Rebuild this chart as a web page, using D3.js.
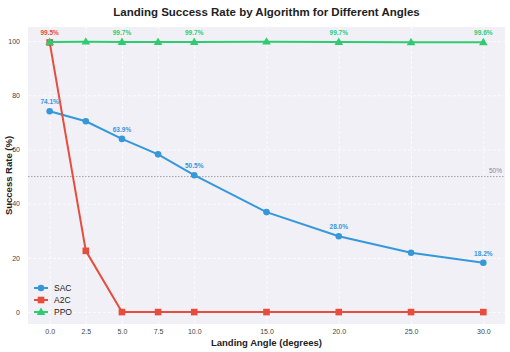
<!DOCTYPE html>
<html>
<head>
<meta charset="utf-8">
<script src="https://cdn.jsdelivr.net/npm/d3@7"></script>
<style>
body { margin: 0; background: #fff; }
text { font-family: "Liberation Sans", Arial, sans-serif; }
</style>
</head>
<body>
<div class="chart"></div>
<script>
const width = 510
const height = 352
const margin = { top: 27, right: 5, left: 28, bottom: 28 }
const innerWidth = width - margin.left - margin.right
const innerHeight = height - margin.top - margin.bottom

const angles = [0, 2.5, 5, 7.5, 10, 15, 20, 25, 30]
const sac = [74.1, 70.4, 63.9, 58.2, 50.5, 36.9, 28.0, 21.9, 18.2]
const a2c = [99.5, 22.6, 0, 0, 0, 0, 0, 0, 0]
const ppo = [99.7, 99.8, 99.7, 99.7, 99.7, 99.8, 99.7, 99.6, 99.6]
const xTicks = [0, 2.5, 5, 7.5, 10, 15, 20, 25, 30]
const yTicks = [0, 20, 40, 60, 80, 100]

const series = [
    { name: "SAC", values: sac, color: "#3498db", marker: "circle", labels: [0, 2, 4, 6, 8] },
    { name: "A2C", values: a2c, color: "#e74c3c", marker: "square", labels: [0] },
    { name: "PPO", values: ppo, color: "#2ecc71", marker: "triangle", labels: [2, 4, 6, 8] }
]

const svg = d3.select(".chart")
    .append("svg")
    .attr("width", width)
    .attr("height", height)

const g = svg.append("g")
    .attr("transform", "translate(" + margin.left + "," + margin.top + ")")

const xScale = d3.scaleLinear()
    .domain([-1.5, 31.5])
    .range([0, innerWidth])

const yScale = d3.scaleLinear()
    .domain([-4.4, 105.2])
    .range([innerHeight, 0])

g.append("rect")
    .attr("width", innerWidth)
    .attr("height", innerHeight)
    .attr("fill", "#f0f0f6")

const xAxis = d3.axisBottom(xScale)
    .tickValues(xTicks)
    .tickFormat(d3.format(".1f"))
    .tickSize(-innerHeight)

const yAxis = d3.axisLeft(yScale)
    .tickValues(yTicks)
    .tickSize(-innerWidth)

g.append("g")
    .attr("transform", "translate(0," + innerHeight + ")")
    .call(xAxis)
    .call(s => s.select(".domain").remove())
    .call(s => s.selectAll("line").attr("stroke", "#fff").attr("stroke-dasharray", "3,2").attr("stroke-width", 0.8))
    .call(s => s.selectAll("text").attr("dy", "0").attr("y", 10).attr("fill", "#444").attr("font-size", 7))

g.append("g")
    .call(yAxis)
    .call(s => s.select(".domain").remove())
    .call(s => s.selectAll("line").attr("stroke", "#fff").attr("stroke-dasharray", "3,2").attr("stroke-width", 0.8))
    .call(s => s.selectAll("text").attr("x", -8).attr("fill", "#444").attr("font-size", 7))

// 50% reference line
g.append("line")
    .attr("x1", 0)
    .attr("x2", innerWidth)
    .attr("y1", yScale(50))
    .attr("y2", yScale(50))
    .attr("stroke", "#999")
    .attr("stroke-width", 0.9)
    .attr("stroke-dasharray", "1.5,1.5")

g.append("text")
    .attr("x", innerWidth - 3)
    .attr("y", yScale(50) - 4)
    .attr("text-anchor", "end")
    .attr("font-size", 6.5)
    .attr("fill", "#888")
    .text("50%")

const line = d3.line()
    .x((d, i) => xScale(angles[i]))
    .y(d => yScale(d))

function drawMarker(sel, type, color, x, y) {
    if (type === "circle") {
        sel.append("circle").attr("cx", x).attr("cy", y).attr("r", 3.3).attr("fill", color)
    } else if (type === "square") {
        sel.append("rect").attr("x", x - 3.3).attr("y", y - 3.3).attr("width", 6.6).attr("height", 6.6).attr("fill", color)
    } else {
        sel.append("path").attr("d", d3.symbol(d3.symbolTriangle, 32)()).attr("transform", "translate(" + x + "," + (y + 0.5) + ")").attr("fill", color)
    }
}

series.forEach(s => {
    g.append("path")
        .attr("d", line(s.values))
        .attr("fill", "none")
        .attr("stroke", s.color)
        .attr("stroke-width", 2)

    const mg = g.append("g")
    s.values.forEach((v, i) => drawMarker(mg, s.marker, s.color, xScale(angles[i]), yScale(v)))

    s.labels.forEach(i => {
        g.append("text")
            .attr("x", xScale(angles[i]))
            .attr("y", yScale(s.values[i]) - 7)
            .attr("text-anchor", "middle")
            .attr("font-size", 6.5)
            .attr("font-weight", "bold")
            .attr("fill", s.color)
            .text(s.values[i].toFixed(1) + "%")
    })
})

// legend
const legend = g.append("g")
    .attr("transform", "translate(6," + (innerHeight - 36) + ")")

series.forEach((s, i) => {
    const row = legend.append("g").attr("transform", "translate(0," + i * 12 + ")")
    row.append("line")
        .attr("x1", 0).attr("x2", 14)
        .attr("stroke", s.color).attr("stroke-width", 2)
    drawMarker(row, s.marker, s.color, 7, 0)
    row.append("text")
        .attr("x", 20)
        .attr("y", 3)
        .attr("font-size", 8.5)
        .attr("fill", "#222")
        .text(s.name)
})

svg.append("text")
    .attr("x", margin.left + innerWidth / 2)
    .attr("y", 16)
    .attr("text-anchor", "middle")
    .attr("font-size", 11.5)
    .attr("font-weight", "bold")
    .attr("fill", "#222")
    .text("Landing Success Rate by Algorithm for Different Angles")

svg.append("text")
    .attr("x", margin.left + innerWidth / 2)
    .attr("y", 346)
    .attr("text-anchor", "middle")
    .attr("font-size", 9.5)
    .attr("font-weight", "bold")
    .attr("fill", "#222")
    .text("Landing Angle (degrees)")

svg.append("text")
    .attr("transform", "translate(12," + (margin.top + innerHeight / 2) + ") rotate(-90)")
    .attr("text-anchor", "middle")
    .attr("font-size", 9.5)
    .attr("font-weight", "bold")
    .attr("fill", "#222")
    .text("Success Rate (%)")
</script>
</body>
</html>
